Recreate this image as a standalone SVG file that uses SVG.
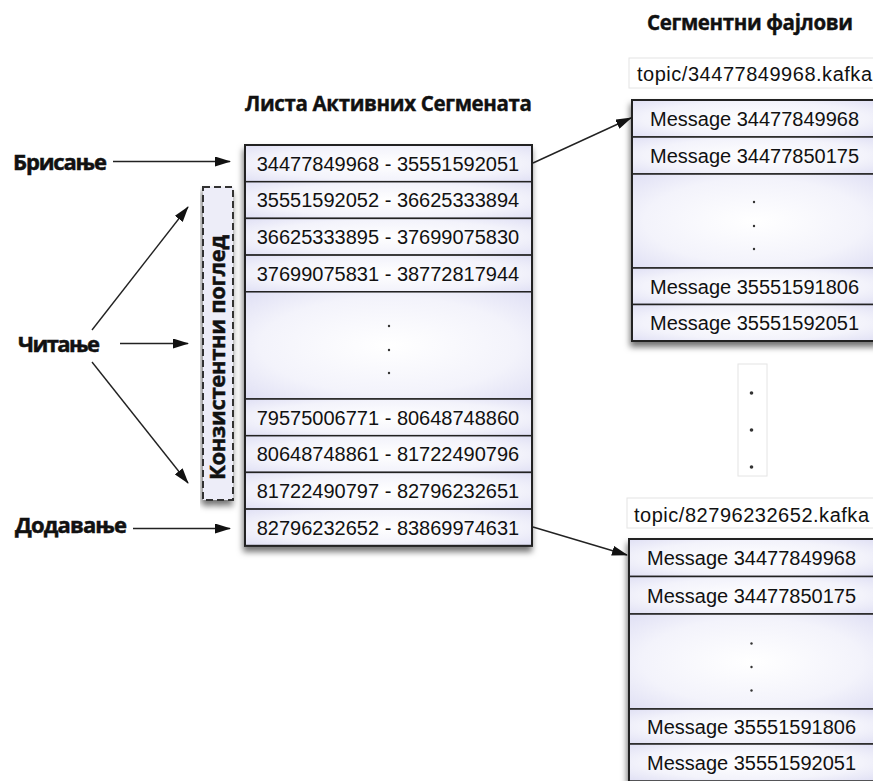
<svg xmlns="http://www.w3.org/2000/svg" width="873" height="781" viewBox="0 0 873 781">
<style>
.lbl{font-family:"Open Sans","Noto Sans",sans-serif;font-weight:700;font-size:22px;fill:#111;stroke:#111;stroke-width:0.5}
.ttl{font-family:"Open Sans","Noto Sans",sans-serif;font-weight:700;font-size:20.5px;fill:#111;stroke:#111;stroke-width:0.4}
.num{font-family:"Liberation Sans",Arial,sans-serif;font-size:20px;fill:#111;text-anchor:middle}
.topic{font-family:"Liberation Sans",Arial,sans-serif;font-size:20px;fill:#111}
.cell{fill:url(#cellg);stroke:#222;stroke-width:1.5}
.frame{fill:none;stroke:#222;stroke-width:2}
.dot{fill:#333}
.arr{stroke:#222;stroke-width:1.4;fill:none;marker-end:url(#ah)}
.tbox{fill:#fff;stroke:#e4e4e4;stroke-width:1}
</style>
<defs>
<radialGradient id="cellg" cx="0.5" cy="0.5" r="0.75">
<stop offset="0" stop-color="#ffffff"/>
<stop offset="0.6" stop-color="#f3f3fb"/>
<stop offset="1" stop-color="#dcdcf3"/>
</radialGradient>
<filter id="sh" x="-10%" y="-10%" width="125%" height="125%">
<feDropShadow dx="-1" dy="5" stdDeviation="3" flood-color="#000" flood-opacity="0.55"/>
</filter>
<marker id="ah" markerUnits="userSpaceOnUse" markerWidth="16" markerHeight="10" refX="15" refY="5" orient="auto">
<path d="M0,0 L16,5 L0,10 z" fill="#111"/>
</marker>
</defs>

<g id="titles">
<text class="ttl" x="245" y="111" textLength="287">Листа Активних Сегмената</text>
<text class="ttl" x="647" y="30" textLength="206">Сегментни фајлови</text>
</g>

<g id="label-brisanje"><text class="lbl" x="13" y="170" textLength="94">Брисање</text></g>
<g id="label-citanje"><text class="lbl" x="18" y="352" textLength="82">Читање</text></g>
<g id="label-dodavanje"><text class="lbl" x="15" y="533" textLength="112">Додавање</text></g>

<g id="consistent-view">
<rect x="203" y="187" width="30" height="313" fill="#ededf8" stroke="#333" stroke-width="2" stroke-dasharray="7 4" filter="url(#sh)"/>
<text class="lbl" transform="translate(225,357.5) rotate(-90)" text-anchor="middle" textLength="245">Конзистентни поглед</text>
</g>

<g id="active-segments" filter="url(#sh)">
<rect class="cell" x="245" y="145" width="287" height="36.7"/>
<rect class="cell" x="245" y="181.7" width="287" height="36.7"/>
<rect class="cell" x="245" y="218.4" width="287" height="36.7"/>
<rect class="cell" x="245" y="255.1" width="287" height="36.7"/>
<rect class="cell" x="245" y="291.8" width="287" height="107.2"/>
<rect class="cell" x="245" y="399" width="287" height="36.7"/>
<rect class="cell" x="245" y="435.7" width="287" height="36.7"/>
<rect class="cell" x="245" y="472.4" width="287" height="36.7"/>
<rect class="cell" x="245" y="509.1" width="287" height="36.7"/>
<rect class="frame" x="245" y="145" width="287" height="400.8"/>
</g>
<g id="active-segments-text">
<text class="num" x="388" y="170.5">34477849968 - 35551592051</text>
<text class="num" x="388" y="207.2">35551592052 - 36625333894</text>
<text class="num" x="388" y="243.9">36625333895 - 37699075830</text>
<text class="num" x="388" y="280.6">37699075831 - 38772817944</text>
<circle class="dot" cx="389" cy="326" r="1.2"/>
<circle class="dot" cx="389" cy="350" r="1.2"/>
<circle class="dot" cx="389" cy="373" r="1.2"/>
<text class="num" x="388" y="424.5">79575006771 - 80648748860</text>
<text class="num" x="388" y="461.2">80648748861 - 81722490796</text>
<text class="num" x="388" y="497.9">81722490797 - 82796232651</text>
<text class="num" x="388" y="534.6">82796232652 - 83869974631</text>
</g>

<g id="segment-file-1">
<rect class="tbox" x="629" y="58" width="250" height="30"/>
<text class="topic" x="637" y="81" textLength="235">topic/34477849968.kafka</text>
<g filter="url(#sh)">
<rect class="cell" x="632" y="100" width="246" height="37"/>
<rect class="cell" x="632" y="137" width="246" height="37"/>
<rect class="cell" x="632" y="174" width="246" height="94"/>
<rect class="cell" x="632" y="268" width="246" height="36.5"/>
<rect class="cell" x="632" y="304.5" width="246" height="36.5"/>
<rect class="frame" x="632" y="100" width="246" height="241"/>
</g>
<text class="num" x="754.5" y="125.5">Message 34477849968</text>
<text class="num" x="754.5" y="162.5">Message 34477850175</text>
<circle class="dot" cx="754" cy="202" r="1.2"/>
<circle class="dot" cx="754" cy="226" r="1.2"/>
<circle class="dot" cx="754" cy="249" r="1.2"/>
<text class="num" x="754.5" y="293.5">Message 35551591806</text>
<text class="num" x="754.5" y="330">Message 35551592051</text>
</g>

<g id="files-ellipsis">
<rect class="tbox" x="738" y="364" width="29" height="112"/>
<circle class="dot" cx="751.5" cy="393" r="1.8"/>
<circle class="dot" cx="751.5" cy="430" r="1.8"/>
<circle class="dot" cx="751.5" cy="467" r="1.8"/>
</g>

<g id="segment-file-2">
<rect class="tbox" x="627" y="498" width="250" height="30"/>
<text class="topic" x="634" y="521.5" textLength="235">topic/82796232652.kafka</text>
<g filter="url(#sh)">
<rect class="cell" x="629" y="539" width="246" height="37.5"/>
<rect class="cell" x="629" y="576.5" width="246" height="37.5"/>
<rect class="cell" x="629" y="614" width="246" height="95"/>
<rect class="cell" x="629" y="709" width="246" height="35"/>
<rect class="cell" x="629" y="744" width="246" height="37"/>
<rect class="frame" x="629" y="539" width="246" height="245"/>
</g>
<text class="num" x="751.5" y="565">Message 34477849968</text>
<text class="num" x="751.5" y="602.5">Message 34477850175</text>
<circle class="dot" cx="751.5" cy="643.5" r="1.2"/>
<circle class="dot" cx="751.5" cy="667" r="1.2"/>
<circle class="dot" cx="751.5" cy="690.5" r="1.2"/>
<text class="num" x="751.5" y="733.5">Message 35551591806</text>
<text class="num" x="751.5" y="769.5">Message 35551592051</text>
</g>

<g id="connectors">
<line class="arr" x1="113" y1="161.5" x2="230" y2="161.5"/>
<line class="arr" x1="120" y1="343.5" x2="188" y2="343.5"/>
<line class="arr" x1="92" y1="330" x2="188" y2="207"/>
<line class="arr" x1="92" y1="362" x2="188" y2="483"/>
<line class="arr" x1="133" y1="528.5" x2="230" y2="528.5"/>
<line class="arr" x1="533" y1="163" x2="631" y2="118"/>
<line class="arr" x1="533" y1="527" x2="627" y2="555"/>
</g>
</svg>
